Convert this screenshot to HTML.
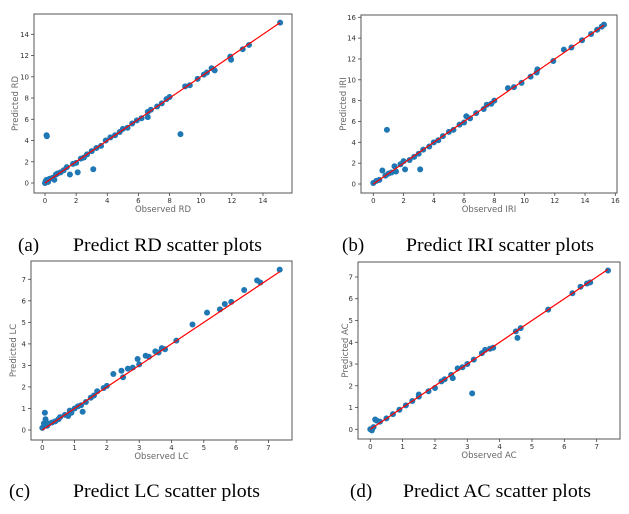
<!DOCTYPE html>
<html><head><meta charset="utf-8"><style>
html,body{margin:0;padding:0;background:#fff;}
svg{display:block;}
.tk{font-family:"DejaVu Sans","Liberation Sans",sans-serif;font-size:7px;fill:#333;}
.al{font-family:"DejaVu Sans","Liberation Sans",sans-serif;font-size:8.5px;fill:#666;}
.cap{font-family:"Liberation Serif",serif;font-size:19px;fill:#000;}
</style></head><body>
<svg id="fig" width="629" height="514" viewBox="0 0 629 514"></svg>
<script>
// ---- data ----
const rdObserved=[0,0.05,0.1,0.1,0.12,0.2,0.3,0.5,0.6,0.7,0.8,1,1.2,1.4,1.6,1.8,2,2.1,2.3,2.5,2.7,3,3.1,3.3,3.6,3.9,4.2,4.5,4.8,5,5.3,5.6,5.9,6.2,6.6,6.6,6.8,7.2,7.5,7.8,8,8.7,9,9.3,9.8,10.2,10.4,10.7,10.9,11.9,11.95,12.7,13.1,15.1];
const rdPredicted=[0,0.2,0.3,4.5,4.4,0.1,0.4,0.5,0.3,0.8,0.9,1,1.2,1.5,0.8,1.8,1.9,1,2.3,2.4,2.7,3,1.3,3.3,3.5,4,4.3,4.5,4.8,5.1,5.2,5.6,5.9,6.1,6.2,6.7,6.9,7.2,7.5,7.9,8.1,4.6,9.1,9.2,9.8,10.2,10.4,10.8,10.6,11.9,11.6,12.6,13,15.1];
const iriObserved=[0,0.2,0.4,0.6,0.8,0.9,1,1.2,1.4,1.5,1.8,2,2.1,2.4,2.7,3,3.1,3.3,3.7,4,4.3,4.6,5,5.3,5.7,6,6.15,6.4,6.8,7.3,7.5,7.8,8,8.9,9.3,9.8,10.4,10.8,10.85,11.9,12.6,13.1,13.8,14.4,14.8,15.1,15.25];
const iriPredicted=[0.1,0.3,0.4,1.3,0.8,5.2,1,1.1,1.7,1.2,1.9,2.2,1.4,2.3,2.6,2.9,1.4,3.3,3.6,4,4.2,4.6,5,5.2,5.7,5.9,6.5,6.3,6.8,7.2,7.6,7.7,8,9.2,9.3,9.7,10.3,10.7,11,11.8,12.9,13.1,13.8,14.4,14.8,15.1,15.3];
const lcObserved=[0,0.05,0.08,0.1,0.15,0.2,0.3,0.4,0.5,0.55,0.7,0.8,0.85,0.9,1,1.1,1.2,1.25,1.35,1.5,1.6,1.7,1.9,2,2.2,2.45,2.5,2.65,2.8,2.95,3,3.2,3.3,3.5,3.6,3.7,3.8,4.15,4.65,5.1,5.5,5.65,5.85,6.25,6.65,6.75,7.35];
const lcPredicted=[0.1,0.3,0.8,0.5,0.2,0.3,0.35,0.4,0.5,0.6,0.7,0.65,0.9,0.8,1,1.1,1.15,0.85,1.3,1.5,1.6,1.8,1.95,2.05,2.6,2.75,2.45,2.85,2.9,3.3,3.05,3.45,3.4,3.65,3.6,3.8,3.75,4.15,4.9,5.45,5.6,5.85,5.95,6.5,6.95,6.85,7.45];
const acObserved=[0,0.05,0.1,0.15,0.2,0.3,0.5,0.7,0.9,1.1,1.3,1.5,1.5,1.8,2,2.2,2.3,2.5,2.55,2.7,2.85,3,3.15,3.2,3.45,3.55,3.7,3.8,4.5,4.55,4.65,5.5,6.25,6.5,6.7,6.8,7.35];
const acPredicted=[0,-0.05,0.1,0.45,0.4,0.35,0.5,0.7,0.9,1.1,1.3,1.6,1.5,1.75,1.9,2.2,2.3,2.5,2.35,2.8,2.85,3,1.65,3.2,3.5,3.65,3.7,3.75,4.5,4.2,4.65,5.5,6.25,6.55,6.7,6.75,7.3];
const rdTicks=[0,2,4,6,8,10,12,14];
const iriTicks=[0,2,4,6,8,10,12,14,16];
const lcTicks=[0,1,2,3,4,5,6,7];
const acTicks=[0,1,2,3,4,5,6,7];
const rdFit=[0,15.1], iriFit=[0,15.25], lcFit=[0,7.35], acFit=[0,7.35];

const NS='http://www.w3.org/2000/svg';
const svg=document.getElementById('fig');
function mk(tag,attrs,parent,text){const e=document.createElementNS(NS,tag);for(const k in attrs)e.setAttribute(k,attrs[k]);if(text!==undefined)e.textContent=text;(parent||svg).appendChild(e);return e;}

function panel(key,o,xs,ys,xt,yt,fit,xlab,ylab,letter,capText){
  const g=mk('g',{});
  
  
  const X=v=>o.x0+(v-0)*o.sx, Y=v=>o.y0-v*o.sy;
  const box=mk('rect',{x:o.bx,y:o.by,width:o.bw,height:o.bh,fill:'none',stroke:'#555','stroke-width':1},g);
  
  
  xt.forEach(t=>{
    const x=X(t);
    mk('line',{x1:x,x2:x,y1:o.by+o.bh,y2:o.by+o.bh+3,stroke:'#444','stroke-width':0.8},g);
    const tx=mk('text',{x:x,y:o.by+o.bh+10,'text-anchor':'middle',class:'tk'},g,String(t));
    
    
  });
  yt.forEach(t=>{
    const y=Y(t);
    mk('line',{x1:o.bx-3,x2:o.bx,y1:y,y2:y,stroke:'#444','stroke-width':0.8},g);
    const ty=mk('text',{x:o.bx-5,y:y+2.5,'text-anchor':'end',class:'tk'},g,String(t));
    
    
  });
  xs.forEach((v,i)=>{
    const c=mk('circle',{cx:X(v),cy:Y(ys[i]),r:3,fill:'#1f77b4'},g);
    
    
  });
  const ln=mk('line',{x1:X(fit[0]),y1:Y(fit[0]),x2:X(fit[1]),y2:Y(fit[1]),stroke:'#ff0000','stroke-width':1.2},g);
  
  
  const xl=mk('text',{x:o.bx+o.bw/2,y:o.by+o.bh+19,'text-anchor':'middle',class:'al'},g,xlab);
  
  
  const yl=mk('text',{x:0,y:0,'text-anchor':'middle',class:'al',transform:`translate(${o.ylx},${o.by+o.bh/2}) rotate(-90)`},g,ylab);
  
  
  const cl=mk('text',{x:o.cx1,y:o.cy,class:'cap'},g,letter);
  
  
  const ct=mk('text',{x:o.cx2,y:o.cy,class:'cap',textLength:o.cw,lengthAdjust:'spacingAndGlyphs'},g,capText);
  
  
}

panel('rd',{bx:34,by:14,bw:258,bh:179,x0:45,sx:15.57,y0:183,sy:10.62,ylx:18,cx1:18,cx2:73,cy:251,cw:189},
  rdObserved,rdPredicted,rdTicks,rdTicks,rdFit,'Observed RD','Predicted RD','(a)','Predict RD scatter plots');
panel('iri',{bx:361,by:15,bw:256,bh:178,x0:373.3,sx:15.125,y0:184,sy:10.42,ylx:346,cx1:342,cx2:406,cy:251,cw:188},
  iriObserved,iriPredicted,iriTicks,iriTicks,iriFit,'Observed IRI','Predicted IRI','(b)','Predict IRI scatter plots');
panel('lc',{bx:31,by:261,bw:261,bh:179,x0:42.3,sx:32.3,y0:430,sy:21.53,ylx:16,cx1:9,cx2:73,cy:497,cw:187},
  lcObserved,lcPredicted,lcTicks,lcTicks,lcFit,'Observed LC','Predicted LC','(c)','Predict LC scatter plots');
panel('ac',{bx:358,by:262,bw:262,bh:177,x0:370.3,sx:32.34,y0:429.3,sy:21.76,ylx:348,cx1:350,cx2:403,cy:497,cw:188},
  acObserved,acPredicted,acTicks,acTicks,acFit,'Observed AC','Predicted AC','(d)','Predict AC scatter plots');
</script>
</body></html>
